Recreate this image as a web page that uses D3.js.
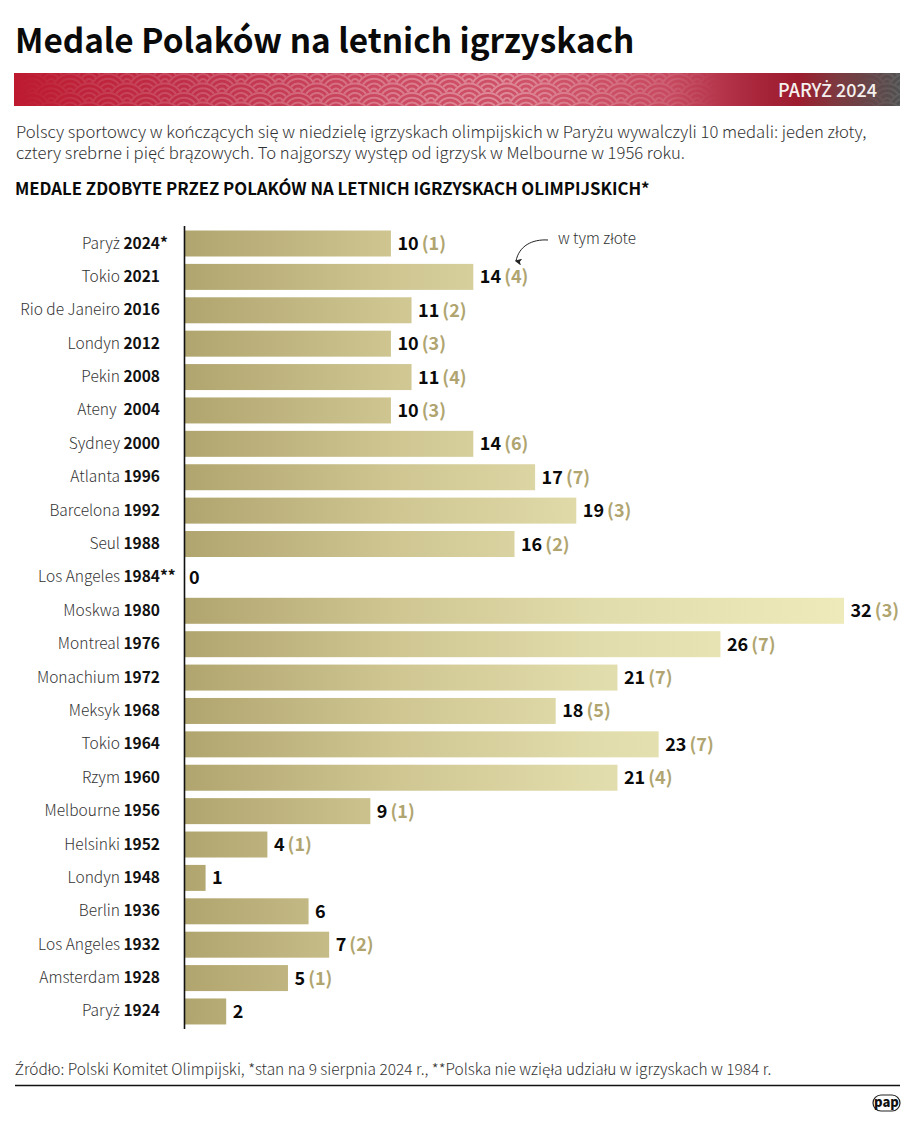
<!DOCTYPE html>
<html>
<head>
<meta charset="utf-8">
<script src="https://cdn.jsdelivr.net/npm/d3@7"></script>
<style>
  html, body { margin: 0; padding: 0; background: #fff; }
  svg { display: block; }
  text { font-family: "Noto Sans CJK JP", "Noto Sans", sans-serif; white-space: pre; }
</style>
</head>
<body>
<svg id="chart"></svg>
<script>
var cities = ['Paryż', 'Tokio', 'Rio de Janeiro', 'Londyn', 'Pekin', 'Ateny ', 'Sydney', 'Atlanta', 'Barcelona', 'Seul',
  'Los Angeles', 'Moskwa', 'Montreal', 'Monachium', 'Meksyk', 'Tokio', 'Rzym', 'Melbourne', 'Helsinki', 'Londyn',
  'Berlin', 'Los Angeles', 'Amsterdam', 'Paryż'];
var years = ['2024', '2021', '2016', '2012', '2008', '2004', '2000', '1996', '1992', '1988',
  '1984', '1980', '1976', '1972', '1968', '1964', '1960', '1956', '1952', '1948',
  '1936', '1932', '1928', '1924'];
var stars = ['*', '', '', '', '', '', '', '', '', '', '**', '', '', '', '', '', '', '', '', '', '', '', '', ''];
var medals = [10, 14, 11, 10, 11, 10, 14, 17, 19, 16, 0, 32, 26, 21, 18, 23, 21, 9, 4, 1, 6, 7, 5, 2];
var golds = [1, 4, 2, 3, 4, 3, 6, 7, 3, 2, null, 3, 7, 7, 5, 7, 4, 1, 1, null, null, 2, 1, null];

var titleText = 'Medale Polaków na letnich igrzyskach';
var bannerText = 'PARYŻ 2024';
var introLines = [
  'Polscy sportowcy w kończących się w niedzielę igrzyskach olimpijskich w Paryżu wywalczyli 10 medali: jeden złoty,',
  'cztery srebrne i pięć brązowych. To najgorszy występ od igrzysk w Melbourne w 1956 roku.'
];
var subtitleText = 'MEDALE ZDOBYTE PRZEZ POLAKÓW NA LETNICH IGRZYSKACH OLIMPIJSKICH*';
var noteText = 'w tym złote';
var sourceText = 'Źródło: Polski Komitet Olimpijski, *stan na 9 sierpnia 2024 r., **Polska nie wzięła udziału w igrzyskach w 1984 r.';

var width = 915;
var height = 1122;
var bar_left = 185;
var first_row = 243.5;
var row_step = 33.39;
var bar_height = 26;

var chart = d3.select('#chart')
  .attr('width', width)
  .attr('height', height)
  .attr('viewBox', `0 0 ${width} ${height}`);

var defs = chart.append('defs');

// the CJK font has no glyphs for some polish letters, those go through Noto Sans
function polish(sel, str) {
  str.split(/([ąćęńśźżĄĆĘŃŚŹŻ]+)/).forEach(function(part, i) {
    if (!part) return;
    var t = sel.append('tspan').text(part);
    if (i % 2 === 1) t.style('font-family', '"Noto Sans"');
  });
}

var x = d3.scaleLinear().domain([0, 32]).range([bar_left, 844]);
var y = d3.scalePoint()
  .domain(d3.range(medals.length))
  .range([first_row, first_row + row_step * (medals.length - 1)]);

// one gradient shared by all bars, longer bars just reach further into it
var gold = defs.append('linearGradient')
  .attr('id', 'gold')
  .attr('gradientUnits', 'userSpaceOnUse')
  .attr('x1', x(0)).attr('x2', x(32)).attr('y1', 0).attr('y2', 0);
gold.append('stop').attr('offset', 0).attr('stop-color', '#b1a56f');
gold.append('stop').attr('offset', 0.32).attr('stop-color', '#cfc692');
gold.append('stop').attr('offset', 0.62).attr('stop-color', '#e1dcab');
gold.append('stop').attr('offset', 1).attr('stop-color', '#eeeab9');

// banner: red - pink - dark red - grey
var band = defs.append('linearGradient').attr('id', 'band');
[[0, '#bd1a30'], [0.2, '#c0304a'], [0.42, '#cc4a62'], [0.6, '#cf5369'], [0.74, '#c74a60'], [0.84, '#a8253a'],
  [0.885, '#9c1c2e'], [0.93, '#7c3a40'], [1, '#505050']].forEach(function(s) {
  band.append('stop').attr('offset', s[0]).attr('stop-color', s[1]);
});

// fish scales: black filled circles with white rings, painted top to bottom,
// used as a mask so the rings stay see-through over the gradient
var scale_w = 38;
var scale_h = 19;
var waves = defs.append('pattern')
  .attr('id', 'waves')
  .attr('patternUnits', 'userSpaceOnUse')
  .attr('x', 13).attr('y', 73)
  .attr('width', scale_w).attr('height', scale_h);
[[0, -9.5], [scale_w, -9.5], [19, 0], [0, 9.5], [scale_w, 9.5], [19, 19], [0, 28.5], [scale_w, 28.5], [19, 38]].forEach(function(c) {
  waves.append('circle').attr('cx', c[0]).attr('cy', c[1]).attr('r', 19).attr('fill', '#000');
  [18, 13.3, 8.6, 3.6].forEach(function(r) {
    waves.append('circle')
      .attr('cx', c[0]).attr('cy', c[1]).attr('r', r)
      .attr('fill', 'none')
      .attr('stroke', '#fff')
      .attr('stroke-width', 2);
  });
});
defs.append('mask').attr('id', 'waves-mask').attr('maskUnits', 'userSpaceOnUse')
  .attr('x', 14).attr('y', 73).attr('width', 886).attr('height', 33)
  .append('rect').attr('x', 14).attr('y', 73).attr('width', 886).attr('height', 33).attr('fill', 'url(#waves)');

var fade = defs.append('linearGradient').attr('id', 'fade');
[[0, 0], [0.08, 0.1], [0.3, 0.22], [0.55, 0.33], [0.72, 0.15], [0.8, 0], [0.95, 0], [1, 0.1]].forEach(function(s) {
  fade.append('stop').attr('offset', s[0]).attr('stop-color', '#fff').attr('stop-opacity', s[1]);
});

defs.append('marker').attr('id', 'arrow')
  .attr('viewBox', '0 0 8 8').attr('refX', 4).attr('refY', 6.5)
  .attr('markerWidth', 7).attr('markerHeight', 7).attr('markerUnits', 'userSpaceOnUse').attr('orient', 'auto-start-reverse')
  .append('path').attr('d', 'M0,0 L8,4 L0,8 L2,4 Z')
  .attr('transform', 'rotate(90 4 4) translate(0 0)').attr('fill', '#222');

// header
polish(chart.append('text').attr('x', 15).attr('y', 53)
  .attr('font-size', 33.3).attr('font-weight', 700).attr('fill', '#0a0a0a'), titleText);

chart.append('rect').attr('x', 14).attr('y', 73).attr('width', 886).attr('height', 33).attr('fill', 'url(#band)');
chart.append('rect').attr('x', 14).attr('y', 73).attr('width', 886).attr('height', 33)
  .attr('fill', 'url(#fade)').attr('mask', 'url(#waves-mask)');
polish(chart.append('text').attr('x', 877).attr('y', 97).attr('text-anchor', 'end')
  .attr('font-size', 18).attr('font-weight', 500).attr('fill', '#f4f0ee'), bannerText);

introLines.forEach(function(line, i) {
  polish(chart.append('text')
    .attr('x', 16).attr('y', 138 + i * 21)
    .attr('font-size', 16.65).attr('font-weight', 300).attr('fill', '#333'), line);
});

polish(chart.append('text').attr('x', 15).attr('y', 194.5)
  .attr('font-size', 16.75).attr('font-weight', 700).attr('fill', '#0a0a0a'), subtitleText);

// rows
var rows = chart.selectAll('.row').data(medals).enter().append('g')
  .attr('class', 'row')
  .attr('transform', function(d, i) { return `translate(0, ${y(i)})`; });

rows.append('rect')
  .attr('x', bar_left)
  .attr('y', -bar_height / 2)
  .attr('width', function(d) { return x(d) - x(0); })
  .attr('height', bar_height)
  .attr('fill', 'url(#gold)');

var labels = rows.append('text')
  .attr('x', 160).attr('y', 5)
  .attr('text-anchor', 'end')
  .attr('font-size', 15.5);
labels.each(function(d, i) {
  var sel = d3.select(this);
  var city = sel.append('tspan').attr('font-weight', 300).attr('fill', '#333');
  polish(city, cities[i] + ' ');
  sel.append('tspan').attr('font-weight', 700).attr('fill', '#111').text(years[i]);
});

// asterisks hang past the year column
rows.append('text')
  .attr('x', 160).attr('y', 5)
  .attr('font-size', 15.5).attr('font-weight', 700).attr('fill', '#111')
  .text(function(d, i) { return stars[i]; });

var values = rows.append('text')
  .attr('x', function(d) { return x(d) + (d === 0 ? 4 : 6.5); })
  .attr('y', 6.5)
  .attr('font-size', 18).attr('font-weight', 700)
  .attr('word-spacing', -1);
values.append('tspan').attr('fill', '#0a0a0a').text(function(d) { return d; });
values.append('tspan').attr('fill', '#b0a570')
  .text(function(d, i) { return golds[i] === null ? '' : ' (' + golds[i] + ')'; });

// axis line
chart.append('line')
  .attr('x1', bar_left - 0.5).attr('x2', bar_left - 0.5)
  .attr('y1', 226).attr('y2', 1029)
  .attr('stroke', '#111').attr('stroke-width', 1.6);

// annotation
chart.append('path')
  .attr('d', 'M548,240 C532,239 519,246 516,261')
  .attr('fill', 'none').attr('stroke', '#222').attr('stroke-width', 1)
  .attr('marker-end', 'url(#arrow)');
chart.append('text').attr('x', 558).attr('y', 244)
  .attr('font-size', 15.3).attr('font-weight', 300).attr('fill', '#333').text(noteText);

// footer
polish(chart.append('text').attr('x', 15).attr('y', 1075)
  .attr('font-size', 15.45).attr('font-weight', 300).attr('fill', '#333'), sourceText);
chart.append('line').attr('x1', 15).attr('x2', 900).attr('y1', 1085.5).attr('y2', 1085.5)
  .attr('stroke', '#111').attr('stroke-width', 1.5);

// pap logo
chart.append('rect').attr('x', 873).attr('y', 1095).attr('width', 27).attr('height', 16).attr('rx', 8)
  .attr('fill', '#fff').attr('stroke', '#222').attr('stroke-width', 1.2);
chart.append('text').attr('x', 886.5).attr('y', 1107).attr('text-anchor', 'middle')
  .attr('font-size', 13).attr('font-weight', 900).attr('fill', '#111').text('pap');
</script>
</body>
</html>
